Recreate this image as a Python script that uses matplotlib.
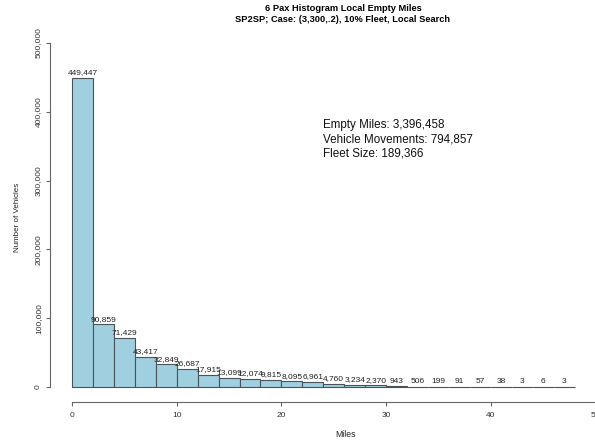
import numpy as np
import matplotlib.pyplot as plt

plt.rcParams['font.family'] = ['Liberation Sans', 'DejaVu Sans']

# histogram breaks (miles) and counts per bin
bin_edges = [0, 2, 4, 6, 8, 10, 12, 14, 16, 18, 20, 22, 24,
             26, 28, 30, 32, 34, 36, 38, 40, 42, 44, 46, 48]
counts = [449447, 90859, 71429, 43417, 32849, 26687, 17915, 13099,
          12074, 9815, 8095, 6961, 4760, 3234, 2370, 943, 506, 199,
          91, 57, 38, 3, 6, 3]

x_ticks = [0, 10, 20, 30, 40, 50]
y_ticks = [0, 100000, 200000, 300000, 400000, 500000]

title_lines = ['6 Pax Histogram Local Empty Miles',
               'SP2SP; Case: (3,300,.2), 10% Fleet, Local Search']
stats_lines = ['Empty Miles: 3,396,458',
               'Vehicle Movements: 794,857',
               'Fleet Size: 189,366']

W, H = 595, 440
fig = plt.figure(figsize=(W / 100, H / 100), dpi=100)

# axes box in pixels: left spine at 50px, x axis line at 402px
left_px, right_px, bottom_px, top_px = 50, 620, 402, 40
ax = fig.add_axes([left_px / W, 1 - bottom_px / H,
                   (right_px - left_px) / W, (bottom_px - top_px) / H])

# data -> pixel: x=0 at 72px, 10.47 px/mile ; y=0 at 387px, 68.8 px per 100k
px_per_mile = 10.47
x0_px = 72
ax.set_xlim((left_px - x0_px) / px_per_mile, (right_px - x0_px) / px_per_mile)
px_per_unit = 68.8 / 100000
y0_px = 387
ax.set_ylim(-(bottom_px - y0_px) / px_per_unit, (y0_px - top_px) / px_per_unit)

edges = np.array(bin_edges)
lefts = edges[:-1]
widths = np.diff(edges)
ax.bar(lefts, counts, width=widths, align='edge', color='#a0cfe0',
       edgecolor='#4a5358', linewidth=0.8)

for e, w, c in zip(lefts, widths, counts):
    ax.text(e + w / 2, c + 2500, f'{c:,}', ha='center', va='bottom',
            fontsize=6.0, color='#222222')

for s in ['top', 'right']:
    ax.spines[s].set_visible(False)
ax.spines['left'].set_bounds(0, 500000)
ax.spines['bottom'].set_bounds(0, 50)
for s in ['left', 'bottom']:
    ax.spines[s].set_color('#666666')
    ax.spines[s].set_linewidth(0.8)

ax.set_xticks(x_ticks)
ax.set_xticklabels([str(t) for t in x_ticks])
ax.set_yticks(y_ticks)
ax.set_yticklabels([f'{t:,}' for t in y_ticks], rotation=90, va='center')
ax.tick_params(axis='both', colors='#666666', labelcolor='#333333',
               labelsize=6.0, length=3.2, width=0.8)
ax.tick_params(axis='x', pad=4)
ax.tick_params(axis='y', pad=2.6)

fig.text(18 / W, 1 - 217.5 / H, 'Number of Vehicles', rotation=90,
         ha='center', va='center', fontsize=5.8, color='#222222')
fig.text(345 / W, 1 - 434 / H, 'Miles', ha='center', va='center',
         fontsize=6.2, color='#222222')

fig.text(343 / W, 1 - 8.5 / H, title_lines[0], ha='center', va='center',
         fontsize=6.7, fontweight='bold')
fig.text(343 / W, 1 - 20 / H, title_lines[1], ha='center', va='center',
         fontsize=6.7, fontweight='bold')

for i, line in enumerate(stats_lines):
    fig.text(323 / W, 1 - (125 + i * 14.2) / H, line, ha='left', va='center',
             fontsize=8.4, color='#111111')

fig.savefig('out.png', dpi=100)
